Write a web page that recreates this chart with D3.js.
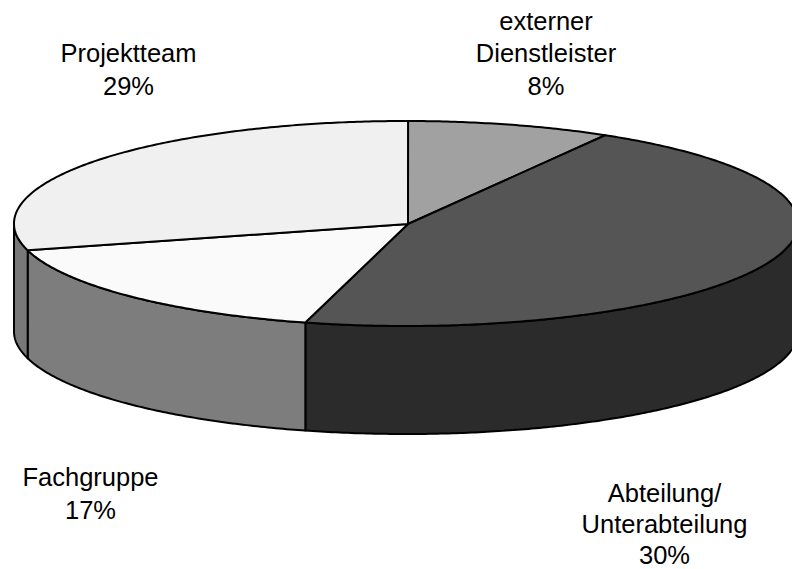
<!DOCTYPE html>
<html>
<head>
<meta charset="utf-8">
<script src="https://cdn.jsdelivr.net/npm/d3@7"></script>
<style>
  html, body { margin: 0; padding: 0; background: #fff; }
  svg { display: block; }
  text { font-family: "Liberation Sans", Arial, sans-serif; font-size: 25.5px; fill: #000; text-anchor: middle; }
</style>
</head>
<body>
<svg id="chart" width="792" height="569"></svg>
<script>
// Slice shares, clockwise from twelve o'clock.
const categories = ["externer Dienstleister", "Abteilung/ Unterabteilung", "Fachgruppe", "Projektteam"];
const shares = [8.4, 45.65, 16.65, 29.3];
// Printed captions are kept apart from the shares: the 30 % caption disagrees with its slice.
const captionLines = [
  ["externer", "Dienstleister", "8%"],
  ["Abteilung/", "Unterabteilung", "30%"],
  ["Fachgruppe", "17%"],
  ["Projektteam", "29%"]
];
const captionAnchors = [[546, 29.5], [664.5, 502], [90.5, 486], [128.5, 62]];
const captionGaps = [32.5, 30.75, 32.5, 32.5];
const topFills = ["#a1a1a1", "#555555", "#fafafa", "#f0f0f0"];
const sideFills = ["#505050", "#2b2b2b", "#7d7d7d", "#787878"];

const width = 792, height = 569;
const hubX = 408, hubY = 224;
const centerX = 406, centerY = 223.5, radiusX = 392, radiusY = 102.5, depth = 108;
const startTurn = 0.3 * Math.PI / 180;

const svg = d3.select("#chart");

const x = d3.scaleLinear().domain([-1, 1]).range([centerX - radiusX, centerX + radiusX]);
const y = d3.scaleLinear().domain([-1, 1]).range([centerY + radiusY, centerY - radiusY]);

const slices = d3.pie()
  .value(d => d)
  .sort(null)
  .startAngle(startTurn)
  .endAngle(startTurn + 2 * Math.PI)(shares);

// Point on the tilted rim for an angle measured clockwise from the top.
const rim = (a, drop = 0) => [x(Math.sin(a)), y(Math.cos(a)) + drop];
const arcSamples = (a0, a1) => {
  const n = Math.max(2, Math.ceil((a1 - a0) / 0.01));
  return d3.range(n + 1).map(i => a0 + (a1 - a0) * i / n);
};
const outline = d3.line();

const frontStart = Math.PI / 2, frontEnd = Math.PI * 3 / 2;

// Outer wall: only the part of each slice on the near side of the disc shows.
slices.forEach((s, i) => {
  const a0 = Math.max(s.startAngle, frontStart), a1 = Math.min(s.endAngle, frontEnd);
  if (a1 <= a0) return;
  const angles = arcSamples(a0, a1);
  const pts = angles.map(a => rim(a)).concat(angles.slice().reverse().map(a => rim(a, depth)));
  svg.append("path")
    .attr("d", outline(pts) + "Z")
    .attr("fill", sideFills[i])
    .attr("stroke", "#000")
    .attr("stroke-width", 2)
    .attr("stroke-linejoin", "round");
});

// Top face wedges.
slices.forEach((s, i) => {
  const pts = [[hubX, hubY]].concat(arcSamples(s.startAngle, s.endAngle).map(a => rim(a)));
  svg.append("path")
    .attr("d", outline(pts) + "Z")
    .attr("fill", topFills[i])
    .attr("stroke", "#000")
    .attr("stroke-width", 2)
    .attr("stroke-linejoin", "round");
});

// Captions around the disc.
captionLines.forEach((lines, i) => {
  const [cx, cy] = captionAnchors[i];
  const t = svg.append("text").attr("transform", `translate(${cx},${cy})`);
  lines.forEach((ln, j) => {
    t.append("tspan").attr("x", 0).attr("y", j * captionGaps[i]).text(ln);
  });
});
</script>
</body>
</html>
